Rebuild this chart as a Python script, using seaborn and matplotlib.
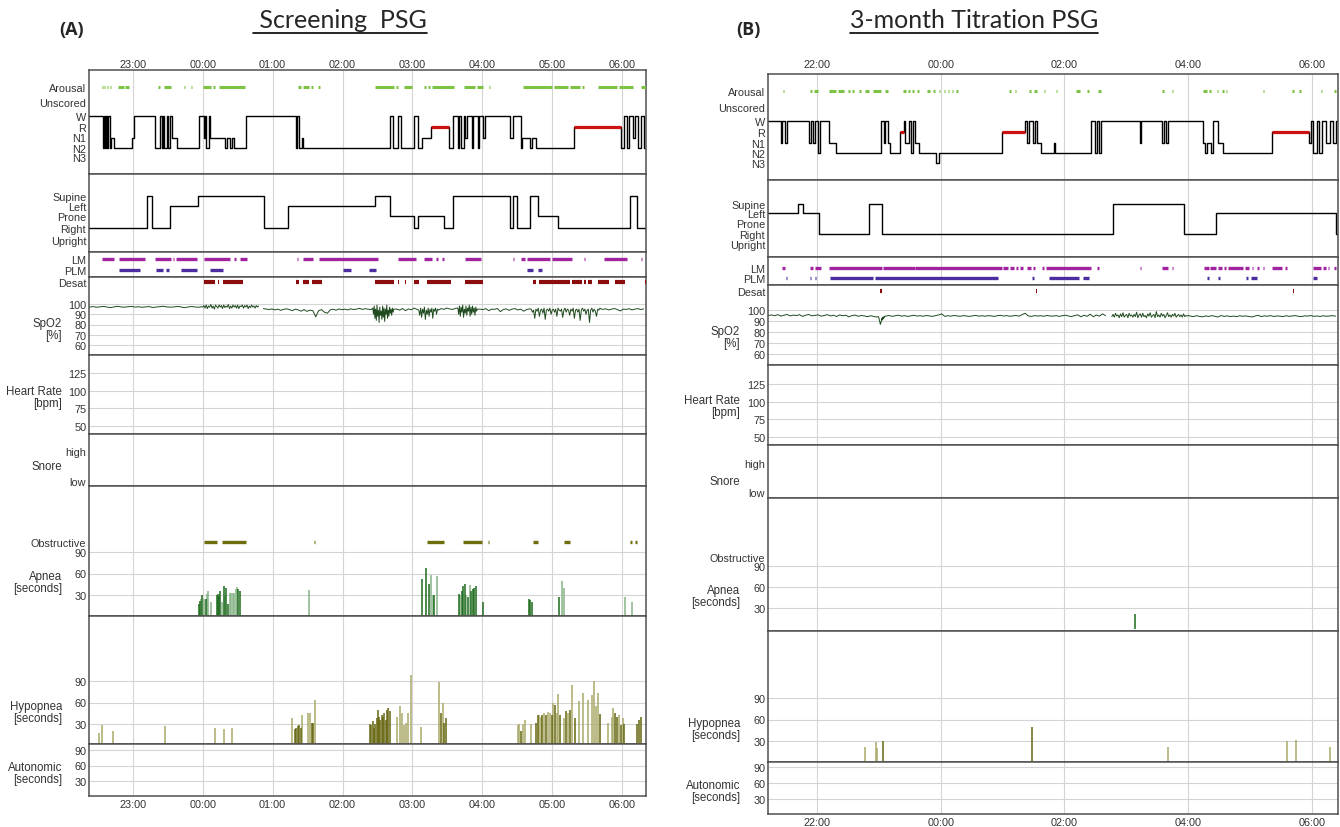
import numpy as np
import pandas as pd
import seaborn as sns
import matplotlib.pyplot as plt
from matplotlib.lines import Line2D

sns.set_style("white")
plt.rcParams['font.family'] = ['Liberation Sans', 'DejaVu Sans']

W, H = 1340, 828

# ---------------- (A) screening PSG, times in minutes after 22:00 ----------------
hours_a = [60, 120, 180, 240, 300, 360, 420, 480]
hour_labels_a = ['23:00', '00:00', '01:00', '02:00', '03:00', '04:00', '05:00', '06:00']

stage_t_a = [22.4, 34, 35, 36, 37, 38, 39, 40, 41, 44, 59, 61, 79, 83, 85, 86, 87, 89, 90, 92, 94, 98,
             117, 121, 122, 123, 125, 126, 139, 141, 143, 145, 147, 157, 200, 201, 203, 205, 206, 281,
             283, 288, 290, 301, 305, 308, 316, 331, 335, 339, 340, 342, 344, 345, 347, 351, 352, 356,
             357, 361, 362, 384, 386, 393, 394, 401, 403, 406, 439, 479, 482, 484, 486, 489, 491, 494,
             496, 499, 500.5]
stage_a = ['W', 'N2', 'W', 'N2', 'W', 'N2', 'W', 'N2', 'N1', 'N2', 'N1', 'W', 'N2', 'W', 'N2', 'W', 'N2',
           'W', 'N2', 'W', 'N1', 'N2', 'W', 'N1', 'W', 'N2', 'W', 'N1', 'N2', 'N1', 'N2', 'N1', 'N2', 'W',
           'N2', 'W', 'N2', 'N1', 'N2', 'W', 'N2', 'W', 'N2', 'W', 'N2', 'N1', 'R', 'N2', 'W', 'N2', 'W',
           'N2', 'W', 'N1', 'W', 'N2', 'W', 'N2', 'W', 'N1', 'W', 'N1', 'W', 'N2', 'N1', 'N2', 'N1', 'N2',
           'R', 'N2', 'W', 'N2', 'W', 'N1', 'W', 'N2', 'W', 'N2', 'N2']

pos_t_a = [22.4, 71.9, 76.6, 92.2, 115.6, 172.5, 192.9, 268.1, 281.0, 301.4, 304.8, 326.8, 334.6,
           383.7, 386.1, 390.2, 400.7, 407.5, 425.1, 486.8, 492.9, 500.5]
pos_a = ['Right', 'Supine', 'Right', 'Left', 'Supine', 'Right', 'Left', 'Supine', 'Prone', 'Right',
         'Prone', 'Right', 'Supine', 'Right', 'Supine', 'Right', 'Supine', 'Prone', 'Right', 'Supine',
         'Right', 'Right']

arousal_a = [(33.5, 34.2), (35.6, 36.3), (37.6, 39.0), (40.3, 41.0), (47.1, 52.2), (53.5, 56.6),
             (68.5, 69.1), (82.0, 83.4), (87.1, 92.9), (103.7, 104.4), (110.2, 111.2), (120.0, 126.8),
             (129.1, 130.2), (133.6, 156.6), (201.4, 204.7), (206.4, 211.5), (213.2, 214.9),
             (219.0, 220.7), (267.5, 284.4), (286.1, 287.8), (292.9, 299.7), (309.8, 311.5),
             (313.2, 314.9), (316.6, 335.3), (344.4, 353.9), (355.6, 360.7), (365.8, 366.4),
             (395.3, 420.0), (421.7, 433.6), (435.3, 443.7), (445.4, 447.1), (449.5, 450.2),
             (459.0, 475.9), (477.6, 489.5), (496.3, 500.5)]
lm_a = [(33.5, 43.7), (48.1, 70.8), (79.3, 92.9), (94.6, 95.6), (97.3, 114.9), (120.7, 143.7),
        (147.1, 148.8), (152.2, 158.0), (200.7, 202.0), (206.4, 214.9), (220.0, 270.8), (287.8, 303.1),
        (309.8, 316.6), (320.0, 321.7), (325.1, 326.8), (345.4, 359.0), (386.1, 387.1), (392.9, 396.3),
        (398.0, 418.3), (420.0, 437.0), (447.1, 448.1), (464.1, 484.4), (496.3, 497.3)]
plm_a = [(48.1, 66.4), (80.0, 86.1), (88.8, 91.2), (101.3, 114.9), (126.1, 137.6), (240.3, 247.1),
         (263.0, 268.5), (398.0, 403.1), (408.1, 411.5)]
desat_a = [(120.7, 130.2), (132.9, 134.2), (137.6, 154.6), (199.7, 203.0), (206.4, 211.5),
           (214.2, 222.4), (267.5, 284.4), (287.8, 288.8), (293.6, 294.6), (301.4, 305.8),
           (312.5, 332.9), (345.4, 360.7), (403.1, 406.4), (408.8, 435.3), (437.0, 445.4),
           (447.1, 448.8), (450.5, 453.9), (459.0, 468.5), (474.2, 482.7), (499.7, 500.5)]
obstructive_a = [(120.7, 131.9), (136.3, 157.3), (215.6, 216.6), (312.5, 326.8), (343.7, 360.0),
                 (364.7, 365.8), (403.1, 408.1), (430.2, 435.3), (487.1, 488.1), (491.2, 492.9)]

apnea_dark_t_a = [116.6, 117.3, 119.3, 122.7, 131.9, 132.9, 134.2, 135.2, 138.0, 140.3, 141.7, 150.5,
                  151.9, 308.5, 311.9, 314.6, 318.6, 339.7, 342.4, 343.7, 345.1, 347.8, 350.5, 351.9,
                  353.2, 354.6, 360.7, 399.7, 400.7, 402.4, 426.1]
apnea_dark_a = [18, 22, 30, 25, 30, 32, 28, 35, 42, 40, 18, 38, 36, 52, 67, 45, 30, 32, 35, 42, 46, 27,
                35, 38, 40, 42, 20, 25, 23, 20, 27]
apnea_light_t_a = [118.3, 120.7, 123.4, 124.7, 126.8, 136.9, 139.0, 143.0, 144.4, 145.8, 147.1, 148.5,
                   149.5, 211.5, 315.9, 317.3, 320.7, 341.0, 346.4, 349.2, 428.5, 430.2, 482.7, 488.5]
apnea_light_a = [25, 25, 32, 35, 20, 20, 28, 33, 33, 33, 33, 38, 41, 37, 58, 30, 56, 30, 30, 44, 50, 40,
                 27, 20]

hypop_light_t_a = [30.8, 33.9, 43.4, 87.4, 130.2, 138.0, 145.4, 196.9, 205.4, 210.2, 212.2, 216.6,
                   287.1, 289.5, 291.2, 292.9, 294.6, 296.3, 299.0, 307.1, 322.7, 326.1, 390.5, 391.9,
                   395.3, 396.3, 401.4, 408.8, 410.2, 413.2, 416.6, 418.3, 421.0, 423.7, 425.1, 430.2,
                   433.6, 437.3, 442.7, 446.1, 450.5, 453.9, 455.6, 457.3, 459.0, 467.5, 470.9, 472.6,
                   477.6, 480.7]
hypop_light_a = [18, 28, 20, 27, 24, 23, 24, 38, 42, 46, 46, 63, 40, 55, 45, 28, 32, 45, 98, 26, 88, 60,
                 28, 30, 30, 36, 30, 42, 40, 45, 47, 45, 60, 45, 72, 38, 45, 85, 62, 73, 63, 70, 90, 55,
                 73, 32, 40, 52, 42, 38]
hypop_dark_t_a = [199.0, 200.3, 201.7, 203.0, 204.7, 213.6, 214.9, 263.4, 264.4, 265.8, 266.8, 267.8,
                  269.2, 270.2, 271.2, 272.5, 273.6, 274.6, 275.9, 277.3, 278.3, 279.3, 280.7, 324.7,
                  327.5, 329.2, 393.2, 406.4, 407.5, 411.5, 414.9, 419.7, 422.4, 426.8, 431.9, 435.3,
                  439.3, 460.7, 474.2, 475.9, 479.3, 482.0, 492.9, 494.6, 496.3]
hypop_dark_a = [23, 25, 27, 28, 25, 32, 32, 30, 28, 34, 25, 30, 38, 50, 40, 36, 43, 40, 45, 35, 50, 52,
                48, 45, 32, 38, 20, 32, 42, 42, 42, 42, 57, 42, 48, 50, 38, 44, 46, 40, 28, 30, 30, 36, 40]

# SpO2 pieces: (run, first minute, minutes between samples, values)
spo2_a = [
    (1, 23, 3, [97.0, 97.5, 96.8, 97.3, 97.6, 97.0, 96.5, 97.2, 97.8, 97.1, 96.9, 97.4, 97.6, 97.0, 97.3,
                96.8, 97.2, 97.5, 96.6, 97.0, 97.4, 97.8, 97.2, 96.9, 97.1, 97.6, 97.3, 96.4, 97.0, 97.5,
                97.2, 96.8, 97.3]),
    (1, 120, 1, [97, 98.5, 96, 99, 95.5, 98, 97, 99.5, 96, 98, 95, 99, 97.5, 96, 99, 97, 98.5, 95.5, 99,
                 96.5, 98, 97, 99.5, 95.5, 98, 96, 99, 97, 98.5, 96, 99, 95.5, 98, 97.5, 99, 96, 98.5, 97,
                 99, 95.5, 98, 96.5, 99, 97, 98, 96, 98.5, 97, 98]),
    (2, 172, 2.5, [95.5, 95.0, 94.6, 95.2, 94.2, 95.0, 93.8, 94.8, 95.3, 94.5, 93.5, 95.0, 94.2, 93.0,
                   94.6, 92.8, 94.0, 93.5, 87.5, 93.5, 94.5, 92.0, 91.0, 94.3, 94.8, 94.0, 95.2, 94.4,
                   95.0, 94.2, 95.3, 94.6, 95.0, 95.8, 94.7, 95.4, 95.0, 94.5]),
    (2, 266, 0.6, [96, 90, 98, 86, 95, 84, 99, 88, 94, 82, 97, 89, 93, 85, 98, 87, 96, 83, 95, 90, 99, 86,
                   94, 88, 97, 91, 95, 89, 96, 92, 95]),
    (2, 286.5, 2.5, [95, 94, 95.6, 93.5, 95.2, 94.4, 96, 94.8]),
    (2, 305.5, 0.8, [94, 89, 96, 87, 95, 91, 97, 85, 94, 90, 96, 88, 95, 92, 96, 86, 95, 93, 96, 90, 95,
                     94]),
    (2, 324.5, 2.5, [95.5, 94.8, 96, 95.2, 94.6, 95.8]),
    (2, 339, 0.7, [96, 90, 98, 88, 97, 92, 99, 87, 95, 91, 98, 89, 96, 93, 99, 88, 97, 90, 98, 92, 96, 89,
                   97, 93, 95]),
    (2, 358, 2.5, [95, 94.5, 95.5, 93.5, 95, 94.8, 95.6, 92.5, 94.7, 95.2, 93.8, 95, 95.5, 94.2, 95, 93,
                   94.6, 95.2]),
    (2, 402, 1, [95, 92, 94, 86, 95, 93, 96, 88, 94, 95, 91, 96, 85, 94, 95, 93, 96, 90, 94, 95, 92, 95,
                 88, 96, 94, 93, 95, 87, 94, 96, 92, 95, 94, 89, 95, 93, 96, 86, 94, 95, 92, 95, 84, 94,
                 96, 93, 95, 90, 94, 95, 82, 94, 96, 92, 95, 93, 88, 95, 94, 96, 95]),
    (2, 463.5, 2.5, [94.8, 95.3, 94.2, 95, 95.6, 94.5, 93.2, 95, 94.7, 95.4, 94.2, 95, 95.5, 94.6, 95.2]),
]

# ---------------- (B) 3-month titration PSG, times in minutes after 21:00 ----------------
hours_b = [60, 180, 300, 420, 540]
hour_labels_b = ['22:00', '00:00', '02:00', '04:00', '06:00']

stage_t_b = [12.5, 25, 26.2, 29, 30.6, 51.9, 54, 56, 58, 61.2, 62.8, 72.1, 78.1, 122.4, 124.8, 126.4,
             128.9, 131.3, 140.5, 144.2, 145.8, 149, 151.4, 153, 155, 158.7, 175.6, 178.4, 239.2, 261.4,
             263.4, 265.4, 269.4, 271.4, 273.8, 277.5, 289.9, 291.1, 325.8, 329.8, 331.8, 333.8, 335.8,
             372.9, 374.1, 394.2, 396.3, 398.3, 400.3, 434.5, 436.5, 438.5, 442.6, 444.6, 449.4, 453.4,
             500.9, 537.2, 539.2, 541.2, 545.2, 547.3, 550.1, 553.3, 557.3, 560.5, 563.3, 565.4]
stage_b = ['W', 'N1', 'W', 'N1', 'W', 'N1', 'W', 'N1', 'W', 'N2', 'W', 'N1', 'N2', 'W', 'N1', 'W', 'N1',
           'N2', 'R', 'W', 'N1', 'W', 'N2', 'W', 'N1', 'N2', 'N3', 'N2', 'R', 'W', 'N1', 'W', 'N1', 'W',
           'N1', 'N2', 'N1', 'N2', 'W', 'N2', 'W', 'N2', 'W', 'N1', 'W', 'N1', 'W', 'N1', 'W', 'N1', 'N2',
           'N1', 'N2', 'W', 'N1', 'N2', 'R', 'N1', 'W', 'N2', 'W', 'N2', 'W', 'N1', 'W', 'N1', 'W', 'W']

pos_t_b = [12.5, 41.9, 46.7, 62.0, 110.3, 123.2, 346.7, 416.4, 446.6, 563.4, 565.4]
pos_b = ['Left', 'Supine', 'Left', 'Right', 'Supine', 'Right', 'Supine', 'Right', 'Left', 'Right', 'Right']

arousal_b = [(26.6, 28.2), (53.2, 54.8), (57.2, 61.2), (72.1, 78.1), (80.2, 86.2), (90.2, 92.2),
             (94.3, 96.3), (100.3, 102.3), (106.3, 110.4), (114.4, 122.4), (125.7, 128.5),
             (143.4, 146.6), (148.6, 150.6), (152.6, 153.9), (156.7, 158.7), (166.7, 170.0),
             (172.8, 174.8), (178.0, 179.6), (182.8, 184.1), (186.9, 187.7), (190.9, 191.7),
             (194.9, 196.9), (246.5, 248.1), (252.1, 253.3), (265.4, 267.4), (270.6, 273.5),
             (280.3, 281.5), (291.6, 293.2), (311.7, 315.0), (321.8, 323.8), (332.6, 335.1),
             (394.3, 396.3), (404.3, 405.1), (434.9, 438.6), (440.6, 442.6), (447.8, 449.4),
             (452.7, 454.7), (456.7, 457.5), (492.9, 494.1), (521.1, 523.1), (527.1, 529.2),
             (548.5, 550.1), (561.4, 563.4)]
lm_b = [(25.8, 29.0), (52.8, 56.0), (58.0, 64.0), (72.1, 123.2), (124.5, 154.7), (155.5, 239.2),
        (240.0, 245.3), (247.3, 251.3), (253.3, 255.3), (257.3, 259.4), (264.2, 267.4), (269.4, 271.4),
        (278.7, 280.3), (281.9, 325.8), (331.8, 333.9), (373.3, 374.5), (394.3, 400.3), (404.3, 405.6),
        (435.3, 439.8), (441.4, 446.6), (448.6, 452.7), (454.7, 456.7), (458.7, 472.8), (474.8, 478.8),
        (481.7, 482.9), (486.9, 488.9), (492.9, 494.1), (501.0, 511.1), (514.3, 515.5), (541.3, 549.3),
        (551.3, 553.3), (555.3, 556.5), (561.4, 563.4)]
plm_b = [(29.8, 30.6), (53.2, 54.0), (58.0, 59.2), (72.5, 114.4), (116.4, 235.2), (268.2, 270.6),
         (285.5, 313.7), (317.8, 323.8), (438.6, 440.6), (448.6, 450.6), (476.0, 478.0), (480.9, 486.9),
         (541.3, 545.3)]
desat_b = [(121.4, 122.6), (272.5, 273.6), (404.2, 404.8), (521.8, 522.4)]
obstructive_b = [(372.9, 373.7)]

apnea_dark_t_b = [368.1]
apnea_dark_b = [21]
apnea_light_t_b = []
apnea_light_b = []

hypop_light_t_b = [106.3, 117.2, 118.4, 400.3, 516.3, 524.3, 558.1]
hypop_light_b = [22, 28, 20, 21, 30, 31, 21]
hypop_dark_t_b = [124.1, 268.2]
hypop_dark_b = [30, 49]

spo2_b = [
    (1, 13, 3, [95, 95.5, 94.8, 95.8, 94.5, 95.2, 96, 94.6, 95.4, 94.9, 95.8, 94.2, 95.3, 95.9, 94.7, 95.1,
                95.6, 94.4, 95, 95.8, 94.6, 95.3, 94.1, 95.5, 94.8, 95.2, 93.8, 94.9, 95.4, 94.3, 95,
                94.6, 93.9, 94.8, 94.2, 93.6]),
    (1, 119.5, 0.5, [94, 93, 91, 89, 87, 88.5, 90, 92.5, 91, 93.5, 92, 94, 93.5, 94.5]),
    (1, 127, 3, [94.5, 95, 94.2, 94.8, 95.3, 94.4, 94.9, 94.1, 94.7, 95.2, 94.5, 94.8, 94.3, 95, 94.6,
                 94.2, 94.9, 95.5, 96.5, 94.2, 94.8, 94.4, 95, 94.6, 94.3, 94.9, 94.5, 94.2, 94.7, 95.1,
                 94.4, 94.8, 94.3, 94.9, 94.6, 94.2, 94.8, 95.2, 94.5, 94.9, 94.3, 94.7, 95, 94.4, 95.8,
                 97, 94.6, 94.2, 94.9, 94.5, 94.8, 94.3, 95, 94.6, 94.4, 94.9, 94.2, 94.8, 95.3, 94.5,
                 94.1, 94.9, 95.6, 93.8, 95.2, 94.3, 96.2, 93.9, 95.5, 94.4, 96.5, 94.8]),
    (2, 346, 1.2, [94, 96, 93.5, 97, 94.5, 95.5, 93, 96.5, 94, 97.5, 93.5, 95, 96, 93, 97, 94.5, 95.5,
                   93.5, 96, 94, 98, 93, 95.5, 96.5, 93.5, 97, 94, 95, 93, 96.5, 94.5, 97.5, 93.5, 95, 96,
                   93, 98.5, 94, 95.5, 93.5, 97, 94.5, 96, 93, 95, 97.5, 94, 95.5, 93.5, 96, 94.5, 97,
                   93.5, 95, 96, 94, 95.5, 93.5, 96.5, 94, 95, 94.5, 95]),
    (2, 422, 3, [94.5, 94, 94.8, 94.2, 93.8, 94.6, 94.1, 94.9, 94.3, 93.6, 95, 94.2, 94.7, 94, 94.5, 93.9,
                 94.8, 94.3, 94.6, 94.1, 93.7, 94.5, 95.2, 94, 94.7, 94.3, 94.9, 94.1, 94.6, 94.4, 94,
                 94.8, 94.2, 94.6, 94.9, 94.3, 94, 94.7, 94.4, 95, 94.2, 94.6, 94.1, 94.8, 94.3, 94.5,
                 94.9, 94.4]),
]

# ---------------- layout (pixel positions) ----------------
layout_a = dict(left=89, right=646, xlim=(22.4, 500.5),
                hyp=(71, 175), pos=(175, 253), leg=(253, 278), spo2=(278, 356), hr=(356, 435),
                snore=(435, 487), apnea=(487, 617), hypop=(617, 745), auto=(745, 797),
                hyp_lv=dict(Arousal=88, Unscored=103, W=117, R=127.5, N1=138.5, N2=149, N3=158.5),
                pos_lv=dict(Supine=197, Left=207, Prone=217, Right=229, Upright=241),
                leg_lv=dict(LM=260, PLM=271),
                spo2_ref=(100, 305, 60, 346), desat_px=283, hr_ref=(125, 374, 50, 427),
                snore_ref=(1, 452, 0, 482), apnea_ref=(90, 553, 30, 596), obs_px=543,
                hypop_ref=(90, 682, 30, 725), auto_ref=(90, 751, 30, 782),
                name_x=62, names=dict(spo2=330, hr=398, snore=467, apnea=583, hypop=713, auto=774),
                top_pad=1.0, bot_pad=2.5)
layout_b = dict(left=768, right=1338, xlim=(12.5, 565.4),
                hyp=(75, 181), pos=(181, 258), leg=(258, 286), spo2=(286, 366), hr=(366, 446),
                snore=(446, 499), apnea=(499, 632), hypop=(632, 763), auto=(763, 815),
                hyp_lv=dict(Arousal=92, Unscored=108, W=122, R=133, N1=144, N2=154, N3=164),
                pos_lv=dict(Supine=205, Left=214, Prone=224, Right=235, Upright=245),
                leg_lv=dict(LM=269, PLM=279),
                spo2_ref=(100, 311, 60, 355), desat_px=292, hr_ref=(125, 385, 50, 438),
                snore_ref=(1, 464, 0, 493), apnea_ref=(90, 567, 30, 609), obs_px=558,
                hypop_ref=(90, 699, 30, 742), auto_ref=(90, 768, 30, 800),
                name_x=740, names=dict(spo2=338, hr=407, snore=482, apnea=597, hypop=730, auto=792),
                top_pad=3.5, bot_pad=2.5)

EDGE = '#505050'
GRID = '#d4d4d4'
TXT = '#333333'
FS = 7.8


def px2val(ref, px):
    v1, p1, v2, p2 = ref
    return v1 + (px - p1) * (v2 - v1) / (p2 - p1)


def spans(ax, y, events, color, lw):
    if events:
        ax.hlines([y] * len(events), [e[0] for e in events], [e[1] for e in events],
                  colors=color, lw=lw, zorder=3)


def draw_panel(lay, d):
    L, R = lay['left'], lay['right']
    axes = {}
    for key in ['hyp', 'pos', 'leg', 'spo2', 'hr', 'snore', 'apnea', 'hypop', 'auto']:
        top, bot = lay[key]
        ax = fig.add_axes([L / W, 1 - bot / H, (R - L) / W, (bot - top) / H])
        for s in ax.spines.values():
            s.set_color(EDGE)
            s.set_linewidth(1.1)
        for t in d['hours']:
            ax.axvline(t, color=GRID, lw=0.8, zorder=0)
        ax.tick_params(axis='y', length=0, pad=2, labelsize=FS, labelcolor=TXT)
        ax.set_xticks([])
        axes[key] = ax

    # hypnogram + arousal
    ax = axes['hyp']
    lv = lay['hyp_lv']
    sns.lineplot(x=d['stage_t'], y=[lv[s] for s in d['stage']], drawstyle='steps-post',
                 estimator=None, sort=False, color='black', lw=1.0, ax=ax)
    for i in range(len(d['stage']) - 1):
        if d['stage'][i] == 'R':
            ax.hlines(lv['R'], d['stage_t'][i], d['stage_t'][i + 1], colors='#cc1111', lw=2.3, zorder=4)
    spans(ax, lv['Arousal'], d['arousal'], '#7cc243', 2.2)
    ax.set_ylim(lay['hyp'][1], lay['hyp'][0])
    ax.set_yticks(list(lv.values()), list(lv.keys()))

    # body position
    ax = axes['pos']
    lv = lay['pos_lv']
    sns.lineplot(x=d['pos_t'], y=[lv[s] for s in d['pos']], drawstyle='steps-post',
                 estimator=None, sort=False, color='black', lw=1.0, ax=ax)
    ax.set_ylim(lay['pos'][1], lay['pos'][0])
    ax.set_yticks(list(lv.values()), list(lv.keys()))

    # leg movements
    ax = axes['leg']
    lv = lay['leg_lv']
    spans(ax, lv['LM'], d['lm'], '#a1239f', 2.4)
    spans(ax, lv['PLM'], d['plm'], '#4b2d9f', 2.4)
    ax.set_ylim(lay['leg'][1], lay['leg'][0])
    ax.set_yticks(list(lv.values()), list(lv.keys()))

    # desaturation + SpO2
    ax = axes['spo2']
    ref = lay['spo2_ref']
    desat_v = px2val(ref, lay['desat_px'])
    for g in [100, 90, 80, 70, 60]:
        ax.axhline(g, color=GRID, lw=0.8, zorder=0)
    spans(ax, desat_v, d['desat'], '#8b0c0c', 3.0)
    rows = []
    for run, t0, dt, vals in d['spo2']:
        for i, v in enumerate(vals):
            rows.append((t0 + i * dt, v, run))
    sp = pd.DataFrame(rows, columns=['t', 'v', 'run'])
    sns.lineplot(data=sp, x='t', y='v', units='run', estimator=None, color='#1f4a1f', lw=0.7, ax=ax)
    ax.set_ylim(px2val(ref, lay['spo2'][1]), px2val(ref, lay['spo2'][0]))
    ax.set_yticks([desat_v, 100, 90, 80, 70, 60], ['Desat', '100', '90', '80', '70', '60'])

    # heart rate (no signal)
    ax = axes['hr']
    ref = lay['hr_ref']
    for g in [125, 100, 75, 50]:
        ax.axhline(g, color=GRID, lw=0.8, zorder=0)
    ax.set_ylim(px2val(ref, lay['hr'][1]), px2val(ref, lay['hr'][0]))
    ax.set_yticks([125, 100, 75, 50], ['125', '100', '75', '50'])

    # snore (no signal)
    ax = axes['snore']
    ref = lay['snore_ref']
    ax.set_ylim(px2val(ref, lay['snore'][1]), px2val(ref, lay['snore'][0]))
    ax.set_yticks([1, 0], ['high', 'low'])

    # obstructive apnea
    ax = axes['apnea']
    ref = lay['apnea_ref']
    obs_v = px2val(ref, lay['obs_px'])
    for g in [90, 60, 30]:
        ax.axhline(g, color=GRID, lw=0.8, zorder=0)
    spans(ax, obs_v, d['obstructive'], '#6e6e0c', 2.4)
    ax.vlines(d['apnea_light_t'], 0, d['apnea_light'], colors='#86b386', lw=1.1, zorder=2)
    ax.vlines(d['apnea_dark_t'], 0, d['apnea_dark'], colors='#1d6a1d', lw=1.1, zorder=3)
    ax.set_ylim(px2val(ref, lay['apnea'][1]), px2val(ref, lay['apnea'][0]))
    ax.set_yticks([obs_v, 90, 60, 30], ['Obstructive', '90', '60', '30'])

    # hypopnea
    ax = axes['hypop']
    ref = lay['hypop_ref']
    for g in [90, 60, 30]:
        ax.axhline(g, color=GRID, lw=0.8, zorder=0)
    ax.vlines(d['hypop_light_t'], 0, d['hypop_light'], colors='#a9a96a', lw=1.1, zorder=2)
    ax.vlines(d['hypop_dark_t'], 0, d['hypop_dark'], colors='#666610', lw=1.1, zorder=3)
    ax.set_ylim(px2val(ref, lay['hypop'][1]), px2val(ref, lay['hypop'][0]))
    ax.set_yticks([90, 60, 30], ['90', '60', '30'])

    # autonomic (no events)
    ax = axes['auto']
    ref = lay['auto_ref']
    for g in [90, 60, 30]:
        ax.axhline(g, color=GRID, lw=0.8, zorder=0)
    ax.set_ylim(px2val(ref, lay['auto'][1]), px2val(ref, lay['auto'][0]))
    ax.set_yticks([90, 60, 30], ['90', '60', '30'])

    for ax in axes.values():
        ax.set_xlim(*lay['xlim'])
        ax.set_xlabel('')
        ax.set_ylabel('')

    # clock labels above and below the stack
    top = axes['hyp']
    top.set_xticks(d['hours'], d['hour_labels'])
    top.tick_params(axis='x', top=True, labeltop=True, bottom=False, labelbottom=False,
                    length=0, pad=lay['top_pad'], labelsize=FS, labelcolor=TXT)
    bot = axes['auto']
    bot.set_xticks(d['hours'], d['hour_labels'])
    bot.tick_params(axis='x', length=0, pad=lay['bot_pad'], labelsize=FS, labelcolor=TXT)

    names = {'spo2': 'SpO2\n[%]', 'hr': 'Heart Rate\n[bpm]', 'snore': 'Snore',
             'apnea': 'Apnea\n[seconds]', 'hypop': 'Hypopnea\n[seconds]', 'auto': 'Autonomic\n[seconds]'}
    for k, label in names.items():
        fig.text(lay['name_x'] / W, 1 - lay['names'][k] / H, label, ha='right', va='center',
                 multialignment='right', fontsize=8.3, color=TXT, linespacing=0.95)


fig = plt.figure(figsize=(W / 100, H / 100), dpi=100)

draw_panel(layout_a, dict(hours=hours_a, hour_labels=hour_labels_a, stage_t=stage_t_a, stage=stage_a,
                          pos_t=pos_t_a, pos=pos_a, arousal=arousal_a, lm=lm_a, plm=plm_a,
                          desat=desat_a, spo2=spo2_a, obstructive=obstructive_a,
                          apnea_dark_t=apnea_dark_t_a, apnea_dark=apnea_dark_a,
                          apnea_light_t=apnea_light_t_a, apnea_light=apnea_light_a,
                          hypop_dark_t=hypop_dark_t_a, hypop_dark=hypop_dark_a,
                          hypop_light_t=hypop_light_t_a, hypop_light=hypop_light_a))
draw_panel(layout_b, dict(hours=hours_b, hour_labels=hour_labels_b, stage_t=stage_t_b, stage=stage_b,
                          pos_t=pos_t_b, pos=pos_b, arousal=arousal_b, lm=lm_b, plm=plm_b,
                          desat=desat_b, spo2=spo2_b, obstructive=obstructive_b,
                          apnea_dark_t=apnea_dark_t_b, apnea_dark=apnea_dark_b,
                          apnea_light_t=apnea_light_t_b, apnea_light=apnea_light_b,
                          hypop_dark_t=hypop_dark_t_b, hypop_dark=hypop_dark_b,
                          hypop_light_t=hypop_light_t_b, hypop_light=hypop_light_b))

# panel letters and underlined titles
fig.text(72 / W, 1 - 30 / H, '(A)', ha='center', va='center', fontsize=13, fontweight='bold',
         family=['Open Sans', 'DejaVu Sans'])
fig.text(748 / W, 1 - 30 / H, '(B)', ha='center', va='center', fontsize=13, fontweight='bold',
         family=['Open Sans', 'DejaVu Sans'])
titles = [fig.text(340 / W, 1 - 21 / H, ' Screening  PSG', ha='center', va='center', fontsize=18,
                   family=['Lato', 'DejaVu Sans']),
          fig.text(974 / W, 1 - 21 / H, '3-month Titration PSG', ha='center', va='center', fontsize=18,
                   family=['Lato', 'DejaVu Sans'])]
fig.canvas.draw()
for t in titles:
    bb = t.get_window_extent()
    fig.add_artist(Line2D([bb.x0 / W, bb.x1 / W], [1 - 34 / H, 1 - 34 / H], transform=fig.transFigure,
                          color='black', lw=1.2))

fig.savefig('out.png', dpi=100)
